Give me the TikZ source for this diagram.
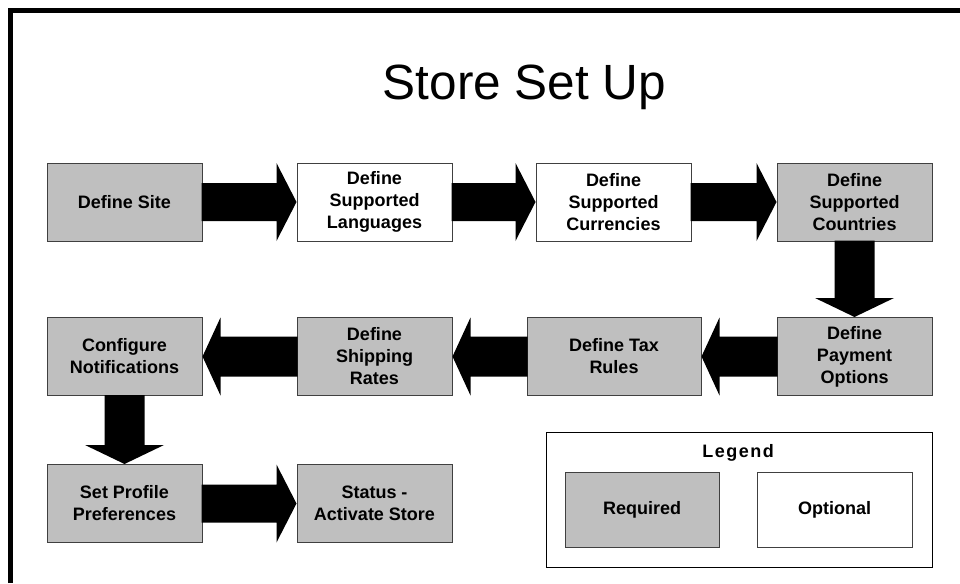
\documentclass[tikz,border=0pt]{standalone}
\usepackage{fontspec}
\setmainfont{Liberation Sans}
\usetikzlibrary{calc}
\tikzset{
  req/.style={draw=black!75, line width=1pt, fill=black!25, minimum width=155pt, minimum height=78pt, inner sep=0pt, align=center, font=\bfseries\fontsize{18}{22}\selectfont},
  opt/.style={req, fill=white},
  arrowfill/.style={fill=black},
}
\newcommand{\arrRight}[2]{\fill[arrowfill] ($(#1.east)+(-1,-19)$) -- ($(#2.west)+(-20,-19)$) -- ($(#2.west)+(-20,-39)$) -- (#2.west) -- ($(#2.west)+(-20,39)$) -- ($(#2.west)+(-20,19)$) -- ($(#1.east)+(-1,19)$) -- cycle;}
\newcommand{\arrLeft}[2]{\fill[arrowfill] ($(#1.west)+(1,-20)$) -- ($(#2.east)+(18,-20)$) -- ($(#2.east)+(18,-39)$) -- (#2.east) -- ($(#2.east)+(18,39)$) -- ($(#2.east)+(18,20)$) -- ($(#1.west)+(1,20)$) -- cycle;}
\newcommand{\arrDown}[2]{\fill[arrowfill] ($(#1.south)+(-20,-1)$) -- ($(#2.north)+(-20,-19)$) -- ($(#2.north)+(-39.5,-19)$) -- (#2.north) -- ($(#2.north)+(39.5,-19)$) -- ($(#2.north)+(20,-19)$) -- ($(#1.south)+(20,-1)$) -- cycle;}
\begin{document}
\begin{tikzpicture}[x=1pt,y=-1pt]
\useasboundingbox (0,0) rectangle (960,583);
\fill[white] (0,0) rectangle (960,583);
% outer frame
\draw[line width=5pt] (10,583) -- (10,11) -- (960,11);
% title
\node[anchor=base, font=\fontsize{49.5}{56}\selectfont, inner sep=0pt] (title) at (524.5,100) {Store Set Up};
% row 1
\node[req] (site) at (124.5,202) {Define Site};
\node[opt] (lang) at (374.5,202) {Define\\Supported\\Languages};
\node[opt] (curr) at (613.5,202) {Define\\Supported\\Currencies};
\node[req] (ctry) at (854.5,202) {Define\\Supported\\Countries};
% row 2
\node[req] (pay) at (854.5,356.5) {Define\\Payment\\Options};
\node[req, minimum width=174pt] (tax) at (614,356.5) {Define Tax\\Rules};
\node[req] (ship) at (374.5,356.5) {Define\\Shipping\\Rates};
\node[req] (conf) at (124.5,356.5) {Configure\\Notifications};
% row 3
\node[req] (prof) at (124.5,503.5) {Set Profile\\Preferences};
\node[req] (stat) at (374.5,503.5) {Status -\\Activate Store};
% arrows
\arrRight{site}{lang}
\arrRight{curr}{ctry}
\arrRight{lang}{curr}
\arrDown{ctry}{pay}
\arrLeft{pay}{tax}
\arrLeft{tax}{ship}
\arrLeft{ship}{conf}
\arrDown{conf}{prof}
\arrRight{prof}{stat}
% legend
\node[draw=black, line width=1pt, minimum width=386pt, minimum height=135pt, inner sep=0pt] (legend) at (739,499.5) {};
\node[font=\bfseries\fontsize{18}{22}\selectfont, inner sep=0pt] (legtitle) at (738,453) {L\kern1.5pt e\kern1.5pt g\kern1.5pt e\kern1.5pt n\kern1.5pt d};
\node[req, minimum width=154pt, minimum height=75pt] (lreq) at (642,509.5) {Required};
\node[opt, minimum height=75pt] (lopt) at (834.5,509.5) {Optional};
\end{tikzpicture}
\end{document}
